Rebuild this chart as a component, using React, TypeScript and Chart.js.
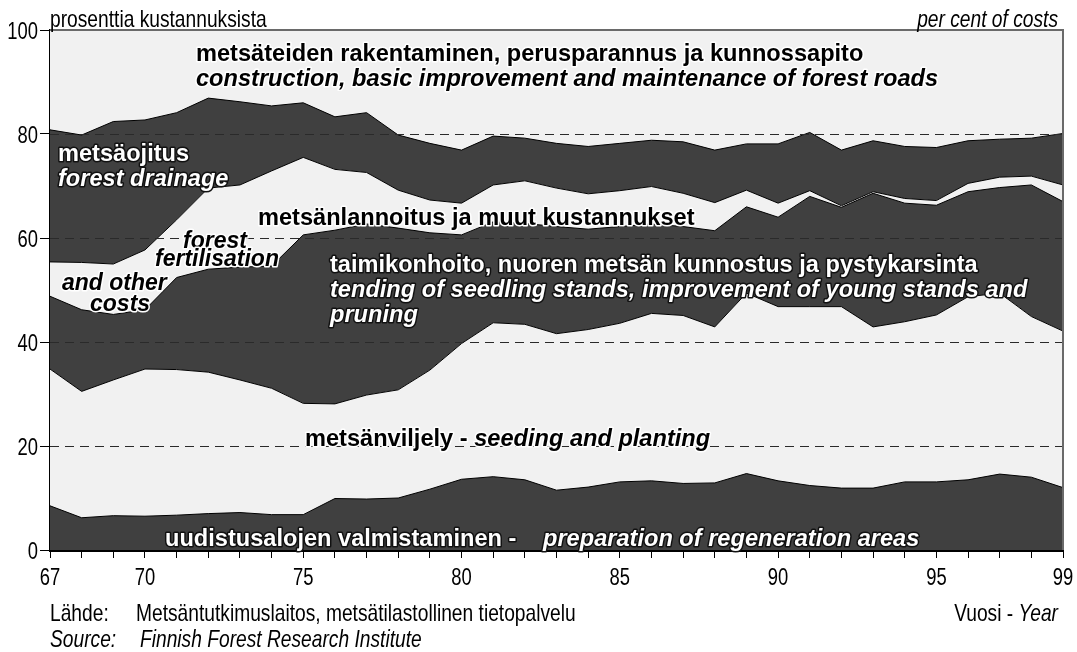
import React, { useEffect, useRef } from "react";
import { Chart, registerables } from "chart.js";

Chart.register(...registerables);

// ---- Data (per cent of costs), years 1967–1999 ----
const YEARS = [67, 68, 69, 70, 71, 72, 73, 74, 75, 76, 77, 78, 79, 80, 81, 82, 83, 84, 85, 86, 87, 88, 89, 90, 91, 92, 93, 94, 95, 96, 97, 98, 99];

// uudistusalojen valmistaminen - preparation of regeneration areas
const UUDISTUS = [8.5, 6.2, 6.6, 6.5, 6.7, 7.0, 7.2, 6.8, 6.8, 9.9, 9.8, 10.0, 11.7, 13.6, 14.1, 13.5, 11.5, 12.1, 13.1, 13.3, 12.8, 12.9, 14.7, 13.3, 12.4, 11.9, 11.9, 13.1, 13.1, 13.5, 14.6, 14.0, 12.0];
// metsänviljely - seeding and planting
const VILJELY = [26.3, 24.3, 26.1, 28.3, 28.0, 27.2, 25.5, 24.3, 21.4, 18.2, 20.0, 20.8, 22.9, 26.1, 29.6, 29.9, 30.1, 30.3, 30.5, 32.2, 32.3, 30.0, 34.7, 33.5, 34.4, 34.9, 31.0, 30.8, 32.1, 35.2, 34.8, 30.9, 30.1];
// taimikonhoito, nuoren metsän kunnostus ja pystykarsinta
const TAIMIKONHOITO = [14.0, 15.7, 12.6, 11.4, 17.7, 19.8, 21.7, 23.5, 32.4, 33.4, 32.9, 31.1, 26.4, 20.9, 19.4, 19.4, 20.6, 19.3, 18.6, 17.2, 17.1, 18.5, 16.6, 17.2, 21.2, 19.1, 25.7, 22.8, 21.1, 20.2, 20.3, 25.3, 24.9];
// metsänlannoitus ja muut kustannukset
const LANNOITUS = [6.6, 9.1, 9.7, 11.5, 11.1, 15.6, 15.8, 18.3, 14.9, 11.7, 9.9, 7.3, 6.3, 6.1, 7.1, 8.2, 7.4, 6.8, 6.9, 7.2, 6.4, 5.4, 3.2, 2.7, 1.1, 0.3, 0.3, 0.9, 0.9, 1.6, 2.0, 1.7, 3.2];
// metsäojitus - forest drainage
const OJITUS = [25.4, 24.5, 27.4, 25.0, 20.6, 17.3, 16.0, 12.5, 10.5, 10.1, 11.5, 10.6, 10.9, 10.2, 9.4, 8.2, 8.6, 9.1, 9.1, 8.9, 9.9, 10.1, 8.9, 11.4, 11.2, 10.7, 9.8, 10.0, 10.2, 8.2, 7.3, 7.3, 9.9];
// metsäteiden rakentaminen, perusparannus ja kunnossapito
const TIET = [19.2, 20.2, 17.6, 17.3, 15.9, 13.1, 13.8, 14.6, 14.0, 16.7, 15.9, 20.2, 21.8, 23.1, 20.4, 20.8, 21.8, 22.4, 21.8, 21.2, 21.5, 23.1, 21.9, 21.9, 19.7, 23.1, 21.3, 22.4, 22.6, 21.3, 21.0, 20.8, 19.9];

const X_TICK_LABELS = [67, 70, 75, 80, 85, 90, 95, 99];
const Y_TICK_STEP = 20;
const GRID_VALUES = [20, 40, 60, 80];

const DARK = "#404040";
const LIGHT = "#f1f1f1";
const SANS = "'Liberation Sans', Arial, sans-serif";
const NARROW_SCALE = 0.8;

type Seg = { text: string; italic?: boolean };
type Label = { x: number; y: number; color: "black" | "white"; segs: Seg[]; size?: number };

const LABELS: Label[] = [
  { x: 196, y: 61, color: "black", segs: [{ text: "metsäteiden rakentaminen, perusparannus ja kunnossapito" }] },
  { x: 196, y: 86, color: "black", segs: [{ text: "construction, basic improvement and maintenance of forest roads", italic: true }] },
  { x: 58, y: 161, color: "white", segs: [{ text: "metsäojitus" }] },
  { x: 58, y: 186, color: "white", segs: [{ text: "forest drainage", italic: true }] },
  { x: 258, y: 225, color: "black", segs: [{ text: "metsänlannoitus ja muut kustannukset" }] },
  { x: 183, y: 248, color: "black", segs: [{ text: "forest", italic: true }], size: 23 },
  { x: 155, y: 266, color: "black", segs: [{ text: "fertilisation", italic: true }], size: 23 },
  { x: 62, y: 290, color: "black", segs: [{ text: "and other", italic: true }], size: 23 },
  { x: 90, y: 311, color: "black", segs: [{ text: "costs", italic: true }], size: 23 },
  { x: 330, y: 272, color: "white", segs: [{ text: "taimikonhoito, nuoren metsän kunnostus ja pystykarsinta" }] },
  { x: 330, y: 297, color: "white", segs: [{ text: "tending of seedling stands, improvement of young stands and", italic: true }] },
  { x: 330, y: 322, color: "white", segs: [{ text: "pruning", italic: true }] },
  { x: 305, y: 446, color: "black", segs: [{ text: "metsänviljely - " }, { text: "seeding and planting", italic: true }] },
  { x: 165, y: 546, color: "white", segs: [{ text: "uudistusalojen valmistaminen -" }] },
  { x: 543, y: 546, color: "white", segs: [{ text: "preparation of regeneration areas", italic: true }] },
];

function toPoints(arr: number[]) {
  return YEARS.map((yr, i) => ({ x: yr, y: arr[i] }));
}

function fontOf(s: Seg, weight: string, size: number) {
  return `${s.italic ? "italic " : ""}${weight} ${size}px ${SANS}`;
}

// Draws text segments; sx < 1 squeezes horizontally (narrow face look)
function drawSegs(
  ctx: CanvasRenderingContext2D,
  segs: Seg[],
  x: number,
  y: number,
  size: number,
  weight: string,
  fill: string,
  stroke: string | null,
  align: "left" | "right" | "center",
  sx = 1
) {
  const widths = segs.map((s) => {
    ctx.font = fontOf(s, weight, size);
    return ctx.measureText(s.text).width;
  });
  const total = widths.reduce((a, b) => a + b, 0);
  ctx.save();
  ctx.translate(x, y);
  ctx.scale(sx, 1);
  let cx = align === "right" ? -total : align === "center" ? -total / 2 : 0;
  ctx.textAlign = "left";
  ctx.textBaseline = "alphabetic";
  segs.forEach((s, i) => {
    ctx.font = fontOf(s, weight, size);
    if (stroke) {
      ctx.lineJoin = "round";
      ctx.lineWidth = 3;
      ctx.strokeStyle = stroke;
      ctx.strokeText(s.text, cx, 0);
    }
    ctx.fillStyle = fill;
    ctx.fillText(s.text, cx, 0);
    cx += widths[i];
  });
  ctx.restore();
}

const overlayPlugin = {
  id: "overlay",
  afterDatasetsDraw(chart: any) {
    const { ctx, chartArea, scales } = chart;
    const yScale = scales.y;
    ctx.save();
    // dashed reference lines
    ctx.setLineDash([9, 6]);
    ctx.lineWidth = 1;
    ctx.strokeStyle = "#2a2a2a";
    GRID_VALUES.forEach((v) => {
      const py = Math.round(yScale.getPixelForValue(v)) + 0.5;
      ctx.beginPath();
      ctx.moveTo(chartArea.left, py);
      ctx.lineTo(chartArea.right, py);
      ctx.stroke();
    });
    ctx.setLineDash([]);
    // top & right frame
    ctx.strokeStyle = "#6a6a6a";
    ctx.lineWidth = 2;
    ctx.beginPath();
    ctx.moveTo(chartArea.left, chartArea.top);
    ctx.lineTo(chartArea.right, chartArea.top);
    ctx.lineTo(chartArea.right, chartArea.bottom);
    ctx.stroke();
    // in-area labels
    LABELS.forEach((l) => {
      const fill = l.color === "black" ? "#000" : "#fff";
      const stroke = l.color === "black" ? "#fff" : "#111";
      drawSegs(ctx, l.segs, l.x, l.y, l.size || 23.6, "bold", fill, stroke, "left");
    });
    ctx.restore();
  },
  afterDraw(chart: any) {
    const { ctx, scales } = chart;
    const xScale = scales.x;
    const yScale = scales.y;
    ctx.save();
    // axis tick labels (narrow face), positioned by the chart's scales
    yScale.ticks.forEach((t: any) => {
      const py = yScale.getPixelForValue(t.value);
      drawSegs(ctx, [{ text: String(t.value) }], yScale.right - 12, py + 9, 23, "normal", "#000", null, "right", NARROW_SCALE);
    });
    xScale.ticks.forEach((t: any) => {
      if (!X_TICK_LABELS.includes(t.value)) return;
      const px = xScale.getPixelForValue(t.value);
      drawSegs(ctx, [{ text: String(t.value) }], px, xScale.top + 35, 23, "normal", "#000", null, "center", NARROW_SCALE);
    });
    drawSegs(ctx, [{ text: "prosenttia kustannuksista" }], 50, 27, 24, "normal", "#000", null, "left", NARROW_SCALE);
    drawSegs(ctx, [{ text: "per cent of costs", italic: true }], 1058, 27, 24, "normal", "#000", null, "right", NARROW_SCALE);
    drawSegs(ctx, [{ text: "Lähde:" }], 50, 621, 24, "normal", "#000", null, "left", NARROW_SCALE);
    drawSegs(ctx, [{ text: "Metsäntutkimuslaitos, metsätilastollinen tietopalvelu" }], 136, 621, 24, "normal", "#000", null, "left", NARROW_SCALE);
    drawSegs(ctx, [{ text: "Source:", italic: true }], 50, 647, 24, "normal", "#000", null, "left", NARROW_SCALE);
    drawSegs(ctx, [{ text: "Finnish Forest Research Institute", italic: true }], 140, 647, 24, "normal", "#000", null, "left", NARROW_SCALE);
    drawSegs(ctx, [{ text: "Vuosi - " }, { text: "Year", italic: true }], 1058, 621, 24, "normal", "#000", null, "right", NARROW_SCALE);
    ctx.restore();
  },
};

export default function App() {
  const ref = useRef<HTMLCanvasElement>(null);
  useEffect(() => {
    const series = [
      { label: "uudistusalojen valmistaminen", data: UUDISTUS, color: DARK, fill: "origin" },
      { label: "metsänviljely", data: VILJELY, color: LIGHT, fill: "-1" },
      { label: "taimikonhoito", data: TAIMIKONHOITO, color: DARK, fill: "-1" },
      { label: "metsänlannoitus", data: LANNOITUS, color: LIGHT, fill: "-1" },
      { label: "metsäojitus", data: OJITUS, color: DARK, fill: "-1" },
      { label: "metsäteiden rakentaminen", data: TIET, color: LIGHT, fill: "-1" },
    ];
    const chart = new Chart(ref.current as HTMLCanvasElement, {
      type: "line",
      data: {
        datasets: series.map((s) => ({
          label: s.label,
          data: toPoints(s.data),
          backgroundColor: s.color,
          borderColor: "#000",
          borderWidth: 1,
          pointRadius: 0,
          tension: 0,
          fill: s.fill,
        })),
      },
      options: {
        animation: false,
        responsive: false,
        devicePixelRatio: 1,
        layout: { padding: { top: 30, right: 14, left: 0, bottom: 0 } },
        plugins: { legend: { display: false }, tooltip: { enabled: false } },
        scales: {
          x: {
            type: "linear",
            min: 67,
            max: 99,
            z: 1,
            afterFit: (s: any) => {
              s.height = 102;
            },
            ticks: { display: false, stepSize: 1, autoSkip: false, maxRotation: 0 },
            grid: { drawOnChartArea: false, drawTicks: true, tickLength: 8, color: "#000", lineWidth: 1 },
            border: { display: true, color: "#000", width: 3 },
          },
          y: {
            type: "linear",
            min: 0,
            max: 100,
            stacked: true,
            z: 1,
            afterFit: (s: any) => {
              s.width = 50;
            },
            ticks: { display: false, stepSize: Y_TICK_STEP },
            grid: { drawOnChartArea: false, drawTicks: true, tickLength: 10, color: "#000", lineWidth: 1 },
            border: { display: true, color: "#000", width: 1.5 },
          },
        },
      } as any,
      plugins: [overlayPlugin],
    });
    return () => chart.destroy();
  }, []);
  return (
    <div style={{ position: "fixed", left: 0, top: 0, width: 1077, height: 652, background: "#fff" }}>
      <canvas ref={ref} width={1077} height={652} style={{ display: "block", width: 1077, height: 652 }} />
    </div>
  );
}
